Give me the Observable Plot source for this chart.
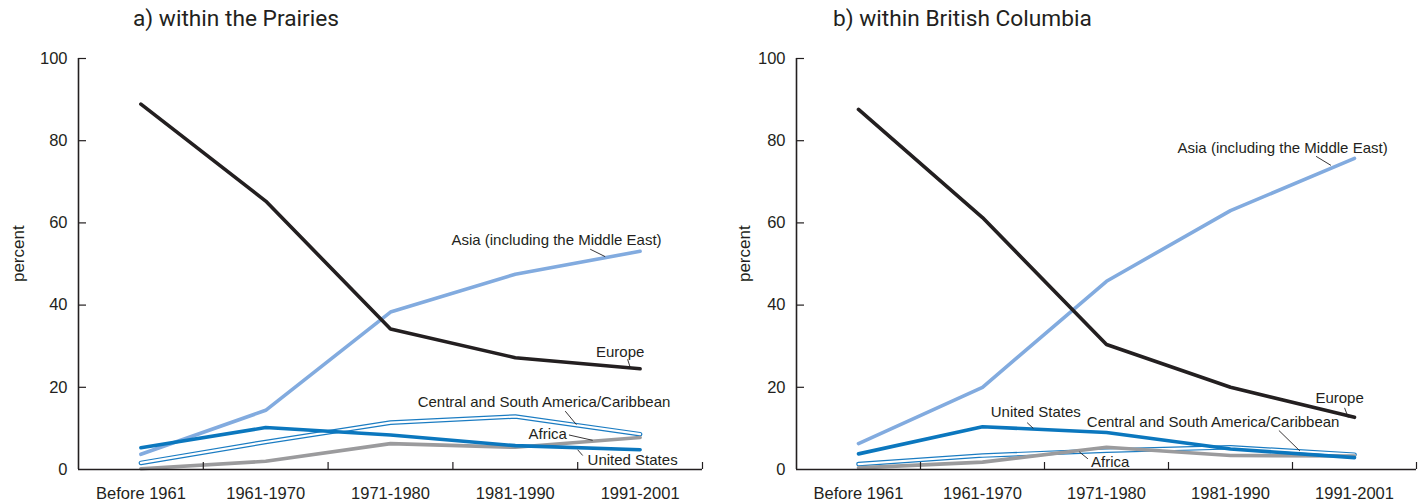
<!DOCTYPE html>
<html>
<head>
<meta charset="utf-8">
<script src="https://cdn.jsdelivr.net/npm/d3@7"></script>
<script src="https://cdn.jsdelivr.net/npm/@observablehq/plot@0.6"></script>
<style>
  html, body { margin: 0; padding: 0; background: #fff; }
  #page { position: relative; width: 1425px; height: 504px; overflow: hidden; background: #fff; }
  .title { position: absolute; top: 5px; font-family: Roboto, "Liberation Sans", sans-serif; font-size: 22.7px; color: #231f20; white-space: nowrap; }
  .panel { position: absolute; top: 40px; }
</style>
</head>
<body>
<div id="page">
  <div class="title" style="left:133px">a) within the Prairies</div>
  <div class="title" style="left:833px">b) within British Columbia</div>
  <div class="panel" id="left" style="left:0px"></div>
  <div class="panel" id="right" style="left:712px"></div>
</div>
<script>
// ---- data ----
const categories = ["Before 1961", "1961-1970", "1971-1980", "1981-1990", "1991-2001"];
const yTicks = [0, 20, 40, 60, 80, 100];

// a) within the Prairies (percent)
const prairiesEurope  = [88.9, 65.3, 34.2, 27.2, 24.5];
const prairiesAsia    = [3.7, 14.4, 38.3, 47.5, 53.1];
const prairiesUS      = [5.3, 10.2, 8.4, 5.8, 4.8];
const prairiesCSA     = [1.6, 6.7, 11.4, 12.9, 8.6];
const prairiesAfrica  = [0.2, 2.0, 6.3, 5.4, 7.8];

// b) within British Columbia (percent)
const bcEurope  = [87.6, 61.3, 30.4, 20.0, 12.7];
const bcAsia    = [6.3, 20.0, 45.8, 63.0, 75.7];
const bcUS      = [3.8, 10.4, 9.0, 5.0, 2.9];
const bcCSA     = [1.3, 3.4, 4.6, 5.4, 3.6];
const bcAfrica  = [0.4, 1.8, 5.4, 3.4, 3.3];

// label placements (category index, percent) and leader lines
const prairiesLabels = [
  {text: "Asia (including the Middle East)", i: 3.33, v: 55.7},
  {text: "Europe", i: 3.84, v: 28.5},
  {text: "Central and South America/Caribbean", i: 3.23, v: 16.3},
  {text: "Africa", i: 3.26, v: 8.5},
  {text: "United States", i: 3.94, v: 2.3}
];
const prairiesLeaders = [
  {i1: 3.60, v1: 53.6, i2: 3.72, v2: 51.8},
  {i1: 3.90, v1: 26.8, i2: 3.92, v2: 24.9},
  {i1: 3.40, v1: 14.2, i2: 3.49, v2: 10.9},
  {i1: 3.43, v1: 8.4, i2: 3.62, v2: 7.1},
  {i1: 3.50, v1: 4.8, i2: 3.54, v2: 3.4}
];
const bcLabels = [
  {text: "Asia (including the Middle East)", i: 3.42, v: 78.1},
  {text: "Europe", i: 3.88, v: 17.3},
  {text: "United States", i: 1.43, v: 13.9},
  {text: "Central and South America/Caribbean", i: 2.86, v: 11.4},
  {text: "Africa", i: 2.03, v: 1.7}
];
const bcLeaders = [
  {i1: 3.69, v1: 76.2, i2: 3.81, v2: 74.0},
  {i1: 3.92, v1: 15.0, i2: 3.95, v2: 12.6},
  {i1: 1.36, v1: 11.4, i2: 1.41, v2: 10.0},
  {i1: 3.39, v1: 9.5, i2: 3.56, v2: 4.5},
  {i1: 1.78, v1: 4.3, i2: 1.85, v2: 2.6}
];

// ---- build ----
function rows(values) { return values.map((v, i) => ({i, v})); }

function panel({europe, asia, us, csa, africa, labels, leaders, width, marginLeft, marginRight, percentOffset}) {
  const height = 464, marginTop = 18, marginBottom = 35;
  const plotW = width - marginLeft - marginRight;
  const plotH = height - marginTop - marginBottom;
  const ink = "#231f20";
  return Plot.plot({
    width, height, marginLeft, marginRight, marginTop, marginBottom,
    style: {fontFamily: "'Liberation Sans', Arial, sans-serif", fontSize: "16.5px", color: ink, background: "#fff", overflow: "visible"},
    x: {domain: [-0.5, 4.5], label: null},
    y: {domain: [0, 100], label: null},
    marks: [
      // data lines
      Plot.line(rows(csa), {x: "i", y: "v", stroke: "#1b7cc2", strokeWidth: 4.6, strokeLinejoin: "miter"}),
      Plot.line(rows(csa), {x: "i", y: "v", stroke: "#ffffff", strokeWidth: 2.2, strokeLinejoin: "miter"}),
      Plot.line(rows(africa), {x: "i", y: "v", stroke: "#9b9b9d", strokeWidth: 3.6, strokeLinejoin: "miter"}),
      Plot.line(rows(asia), {x: "i", y: "v", stroke: "#82abdf", strokeWidth: 3.6, strokeLinejoin: "miter"}),
      Plot.line(rows(us), {x: "i", y: "v", stroke: "#0b77be", strokeWidth: 3.6, strokeLinejoin: "miter"}),
      Plot.line(rows(europe), {x: "i", y: "v", stroke: ink, strokeWidth: 3.6, strokeLinejoin: "miter"}),
      // axes
      Plot.gridY({ticks: yTicks.slice(1), stroke: ink, strokeOpacity: 1, strokeWidth: 1.2, insetRight: plotW - 8}),
      Plot.gridX({ticks: [0.5, 1.5, 2.5, 3.5, 4.5], stroke: ink, strokeOpacity: 1, strokeWidth: 1.2, insetTop: plotH - 7}),
      Plot.ruleX([-0.5], {stroke: ink, strokeWidth: 1.6}),
      Plot.ruleY([0], {stroke: ink, strokeWidth: 1.6}),
      Plot.axisY({ticks: yTicks, tickSize: 0, tickPadding: 11, fontSize: 16.5}),
      Plot.axisX({ticks: [0, 1, 2, 3, 4], tickFormat: (d) => categories[d], tickSize: 0, tickPadding: 18, fontSize: 16.5}),
      Plot.text(["percent"], {x: -0.5, y: 52.5, dx: -percentOffset, rotate: -90, fontSize: 17, fill: ink, textAnchor: "middle"}),
      // labels and leaders
      Plot.link(leaders, {x1: "i1", y1: "v1", x2: "i2", y2: "v2", stroke: ink, strokeWidth: 0.9}),
      Plot.text(labels, {x: "i", y: "v", text: "text", fontSize: 15, fill: ink, textAnchor: "middle"})
    ]
  });
}

document.getElementById("left").append(panel({
  europe: prairiesEurope, asia: prairiesAsia, us: prairiesUS, csa: prairiesCSA, africa: prairiesAfrica,
  labels: prairiesLabels, leaders: prairiesLeaders, width: 712, marginLeft: 78, marginRight: 10, percentOffset: 59.5
}));
document.getElementById("right").append(panel({
  europe: bcEurope, asia: bcAsia, us: bcUS, csa: bcCSA, africa: bcAfrica,
  labels: bcLabels, leaders: bcLeaders, width: 713, marginLeft: 84, marginRight: 9, percentOffset: 51.5
}));
</script>
</body>
</html>
